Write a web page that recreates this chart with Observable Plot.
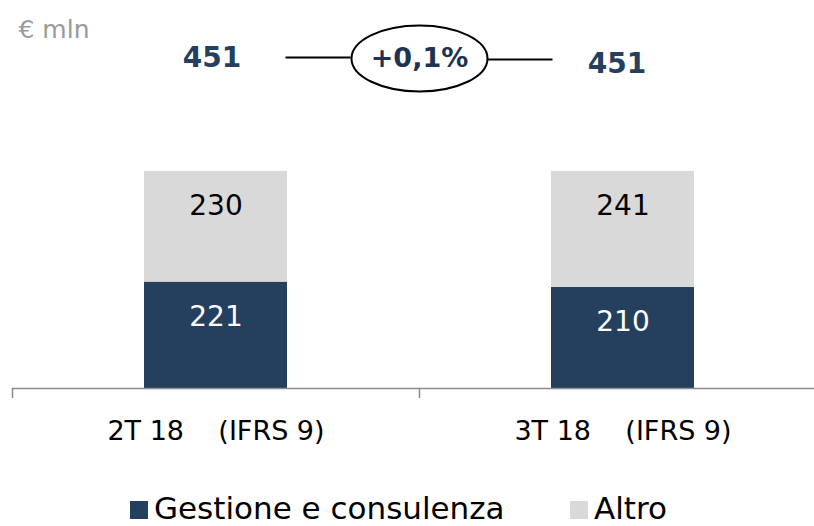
<!DOCTYPE html>
<html><head><meta charset="utf-8">
<script src="https://cdn.jsdelivr.net/npm/d3@7"></script>
<script src="https://cdn.jsdelivr.net/npm/@observablehq/plot@0.6"></script>
<style>
body{margin:0;background:#fff;font-family:"DejaVu Sans",sans-serif;overflow:hidden;}
#legend{height:60px;position:relative;font-size:31px;line-height:32px;color:#000;}
.item{position:absolute;top:26px;display:flex;align-items:center;}
.sw{width:18px;height:18px;margin-right:6px;margin-top:3px;}
</style></head>
<body><div id="chart"></div><div id="legend"></div>
<script>
const categories = ["2T 18    (IFRS 9)", "3T 18    (IFRS 9)"];
const gestione = [221, 210];
const altro = [230, 241];
const totals = [451, 451];
const changeLabel = "+0,1%";
const unitLabel = "€ mln";
const seriesNames = ["Gestione e consulenza", "Altro"];
const seriesColors = ["#253F5F", "#D9D9D9"];
const labelColors = ["#ffffff", "#000000"];

const rows = [];
categories.forEach((c, i) => {
  rows.push({i, s: 0, y1: 0, y2: gestione[i], v: gestione[i]});
  rows.push({i, s: 1, y1: gestione[i], y2: gestione[i] + altro[i], v: altro[i]});
});
const cats = categories.map((c, i) => ({i, c, t: totals[i]}));
const midY = d3.mean(totals);

const k = 0.5523, rx = 68, ry = 33;
const ellipseSymbol = {draw(ctx) {
  ctx.moveTo(rx, 0);
  ctx.bezierCurveTo(rx, ry * k, rx * k, ry, 0, ry);
  ctx.bezierCurveTo(-rx * k, ry, -rx, ry * k, -rx, 0);
  ctx.bezierCurveTo(-rx, -ry * k, -rx * k, -ry, 0, -ry);
  ctx.bezierCurveTo(rx * k, -ry, rx, -ry * k, rx, 0);
  ctx.closePath();
}};

const font = "DejaVu Sans";
const plot = Plot.plot({
  width: 814, height: 466,
  marginTop: 0, marginBottom: 78, marginLeft: 12, marginRight: -12,
  style: {fontFamily: font, background: "transparent", overflow: "visible"},
  x: {type: "linear", domain: [0, categories.length], axis: null},
  y: {domain: [0, 806], axis: null},
  marks: [
    Plot.rectY(rows, {x1: d => d.i, x2: d => d.i + 1, y1: "y1", y2: "y2",
      fill: d => seriesColors[d.s], insetLeft: 132, insetRight: 132}),
    Plot.text(rows, {x: d => d.i + 0.5, y: "y2", text: d => String(d.v), dy: 35,
      fill: d => labelColors[d.s], fontSize: 28}),
    Plot.ruleY([0], {stroke: "#8c8c8c", strokeWidth: 1.5}),
    Plot.ruleX(d3.range(categories.length + 1), {y1: 0, y2: -21, stroke: "#8c8c8c", strokeWidth: 1.5}),
    Plot.text(cats, {x: d => d.i + 0.5, y: 0, dy: 43, text: "c", fontSize: 27, fill: "#000"}),
    Plot.text([unitLabel], {frameAnchor: "top-left", dx: 6, dy: 20, fontSize: 25, fill: "#9a9a9a"}),
    Plot.ruleY([-1], {x1: d => 1 + d * 0.168, x2: d => 1 + d * 0.328, y: midY,
      dy: -114, stroke: "#000", strokeWidth: 2}),
    Plot.ruleY([1], {x1: d => 1 + d * 0.168, x2: d => 1 + d * 0.328, y: midY,
      dy: -112, stroke: "#000", strokeWidth: 2}),
    Plot.dot([changeLabel], {x: 1, y: midY, symbol: ellipseSymbol, r: 1,
      stroke: "#000", strokeWidth: 2, fill: "#fff", dy: -113}),
    Plot.text([changeLabel], {x: 1, y: midY, dy: -113, text: d => d, fontSize: 27,
      fontWeight: "bold", fill: "#1f3350"}),
    Plot.text(cats.filter(d => d.i === 0), {x: d => d.i + 0.5, y: "t", dx: -4, dy: -113,
      text: d => String(d.t), fontSize: 28, fontWeight: "bold", fill: "#253F5F"}),
    Plot.text(cats.filter(d => d.i === 1), {x: d => d.i + 0.5, y: "t", dx: -6, dy: -107,
      text: d => String(d.t), fontSize: 28, fontWeight: "bold", fill: "#253F5F"})
  ]
});
document.getElementById("chart").appendChild(plot);

const legend = document.getElementById("legend");
const lefts = [130, 570];
seriesNames.forEach((n, j) => {
  const it = document.createElement("div");
  it.className = "item";
  it.style.left = lefts[j] + "px";
  it.innerHTML = `<div class="sw" style="background:${seriesColors[j]}"></div><span>${n}</span>`;
  legend.appendChild(it);
});
</script></body></html>
